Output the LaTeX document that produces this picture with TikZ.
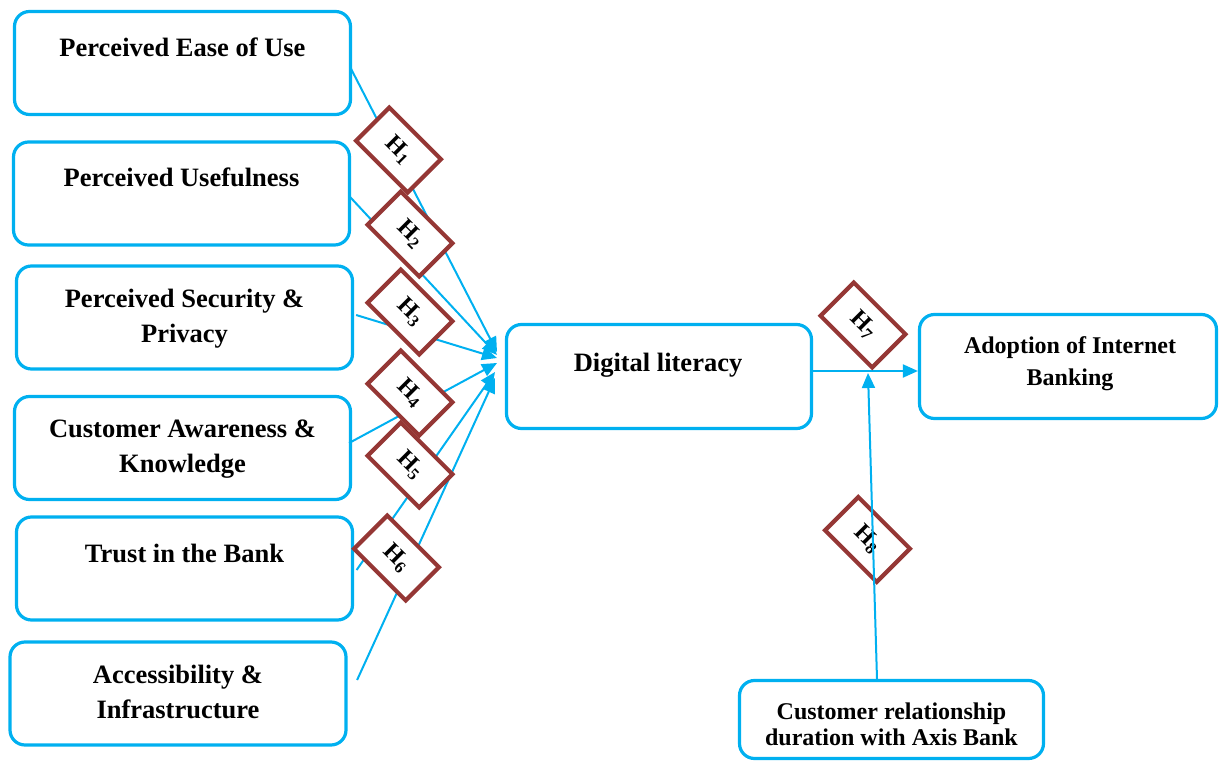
\documentclass[tikz,border=0pt]{standalone}
\usepackage{fontspec}
\setmainfont{Liberation Serif}
\usetikzlibrary{arrows.meta,calc}
\definecolor{lblue}{RGB}{0,176,240}
\definecolor{hred}{RGB}{149,55,53}
\begin{document}
\begin{tikzpicture}[x=1pt,y=1pt,
 box/.style={draw=lblue, line width=3.2pt, rounded corners=15pt, inner sep=0pt, minimum width=336pt, minimum height=103pt},
 lbl/.style={anchor=base, inner sep=0pt, font=\bfseries\fontsize{26.5}{35}\selectfont},
 slbl/.style={anchor=base, inner sep=0pt, font=\bfseries\fontsize{24}{32}\selectfont},
 hyp/.style={draw=hred, fill=white, line width=4.2pt, rotate=-45, minimum width=73pt, minimum height=47pt, inner sep=0pt, font=\bfseries\fontsize{24}{28}\selectfont},
 conn/.style={draw=lblue, line width=2pt, -{Triangle[length=15pt,width=13pt]}},
]
\useasboundingbox (0,0) rectangle (1221,-762);

% boxes
\node[box] (b1) at (182.5,-63) {};
\node[box] (b2) at (181.5,-193.5) {};
\node[box] (b3) at (184.5,-317.5) {};
\node[box] (b4) at (182.5,-448) {};
\node[box] (b5) at (184.5,-568.5) {};
\node[box] (b6) at (178,-693.5) {};
\node[box, minimum width=305pt, minimum height=104pt] (dl) at (659,-376.5) {};
\node[box, minimum width=297pt, minimum height=104pt] (ad) at (1068,-366.5) {};
\node[box, minimum width=304pt, minimum height=78pt] (cr) at (891.5,-719.5) {};

% texts
\node[lbl] (t1) at (182.5,-57) {Perceived Ease of Use};
\node[lbl] (t2) at (181.5,-187) {Perceived Usefulness};
\node[lbl] (t3) at (184.5,-307) {\parbox[t]{330pt}{\centering Perceived Security \&\\Privacy}};
\node[lbl] (t4) at (182.5,-437) {\parbox[t]{330pt}{\centering Customer Awareness \&\\Knowledge}};
\node[lbl] (t5) at (184.5,-562) {Trust in the Bank};
\node[lbl] (t6) at (178,-683) {\parbox[t]{330pt}{\centering Accessibility \&\\Infrastructure}};
\node[lbl] (tdl) at (658,-371) {Digital literacy};
\node[slbl] (tad) at (1070,-353) {\parbox[t]{290pt}{\centering Adoption of Internet\\Banking}};
\node[slbl, font=\bfseries\fontsize{24}{26}\selectfont] (tcr) at (891.5,-719) {\parbox[t]{300pt}{\centering Customer relationship\\duration with Axis Bank}};

% convergence points
\coordinate (e1) at (497,-352);
\coordinate (e2) at (497,-355);
\coordinate (e3) at (497,-358);
\coordinate (e4) at (497,-363);
\coordinate (e5) at (495,-372);
\coordinate (e6) at (495,-378);
\coordinate (e8) at (868,-373);

% connectors
\draw[conn] ($(b1.east)+(-2,-4)$) -- (e1);
\draw[conn] ($(b2.east)+(-1,-3.5)$) -- (e2);
\draw[conn] ($(b3.east)+(2,2.5)$) -- (e3);
\draw[conn] ($(b4.east)+(-3,5)$) -- (e4);
\draw[conn] ($(b5.east)+(2.5,-1.5)$) -- (e5);
\draw[conn] ($(b6.east)+(9.5,13.5)$) -- (e6);
\draw[conn] ($(dl.east)+(0,5.5)$) -- ($(ad.west)+(0,-4.5)$);

% hypotheses
\node[hyp] (h1) at (398.5,-150) {H\textsubscript{1}};
\node[hyp] (h2) at (410,-234) {H\textsubscript{2}};
\node[hyp] (h3) at (410,-312) {H\textsubscript{3}};
\node[hyp] (h4) at (410,-393) {H\textsubscript{4}};
\node[hyp] (h5) at (410,-465) {H\textsubscript{5}};
\node[hyp] (h6) at (396.5,-558) {H\textsubscript{6}};
\node[hyp] (h7) at (863,-325) {H\textsubscript{7}};
\node[hyp] (h8) at (867.5,-539.5) {H\textsubscript{8}};

\draw[conn] ($(cr.north)+(-14.5,0)$) -- (e8);
\end{tikzpicture}
\end{document}
